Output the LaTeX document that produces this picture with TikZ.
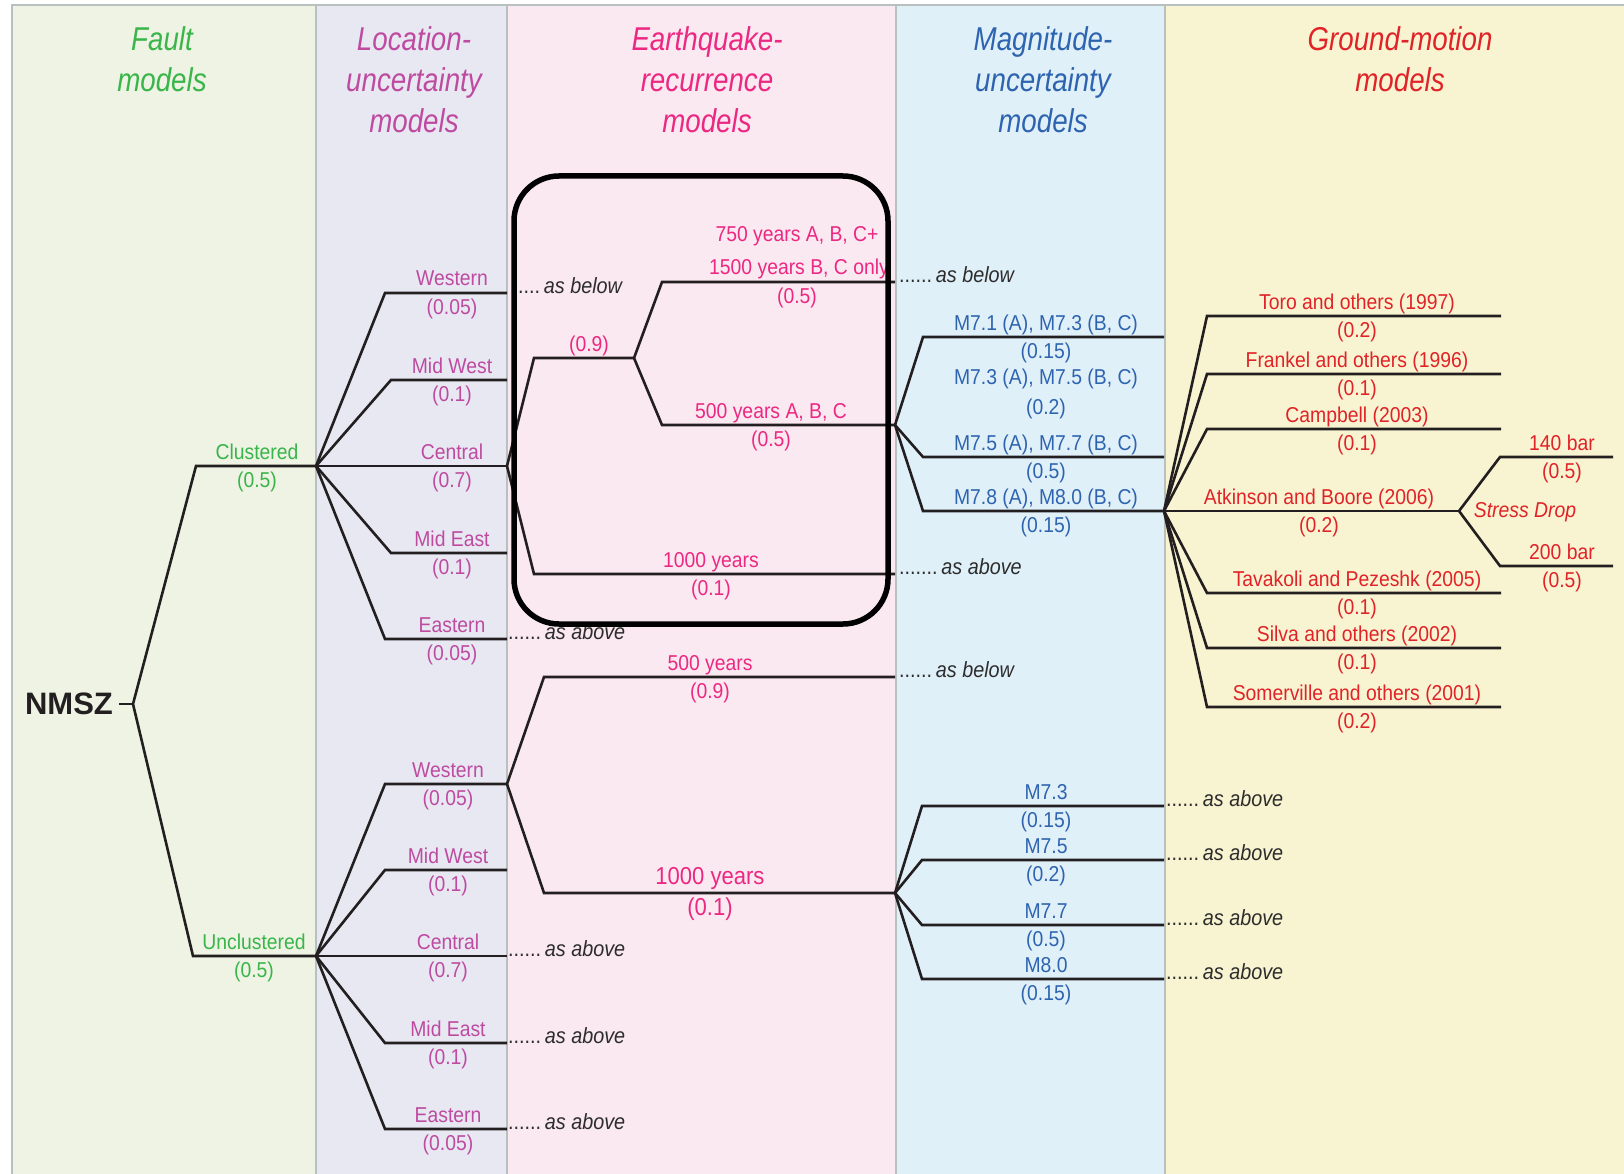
\documentclass[tikz,border=0pt]{standalone}
\usepackage{fontspec}
\setmainfont{Liberation Sans}[FakeStretch=0.9]
\newfontfamily\headfont{Liberation Sans}[FakeStretch=0.84]
\newfontfamily\rootfont{Liberation Sans}
\usetikzlibrary{positioning}
\definecolor{faultc}{RGB}{57,181,74}
\definecolor{locc}{RGB}{190,75,160}
\definecolor{recc}{RGB}{236,40,130}
\definecolor{magc}{RGB}{46,100,175}
\definecolor{gmc}{RGB}{224,35,40}
\definecolor{faultbg}{RGB}{238,243,228}
\definecolor{locbg}{RGB}{232,232,243}
\definecolor{recbg}{RGB}{250,233,240}
\definecolor{magbg}{RGB}{224,240,249}
\definecolor{gmbg}{RGB}{248,244,209}
\definecolor{rulec}{RGB}{185,192,192}
\definecolor{linec}{RGB}{35,31,32}
\definecolor{leadc}{RGB}{45,45,45}
\tikzset{
  branch/.style={draw=linec, line width=2.6pt},
  lab/.style={anchor=base, inner sep=0pt, font=\fontsize{21.5}{24}\selectfont},
  labup/.style={lab, yshift=7pt},
  labdn/.style={lab, yshift=-21pt},
  lead/.style={anchor=base west, inner sep=0pt, text=leadc, font=\fontsize{22}{24}\selectfont},
  head/.style={anchor=north, align=center, inner sep=0pt, font=\headfont\itshape\fontsize{33}{41}\selectfont},
  col/.style={draw=rulec, line width=2pt},
}

\begin{document}
\begin{tikzpicture}[x=1pt, y=-1pt]
	\useasboundingbox (0,0) rectangle (1624,1174);
	\fill[white] (0,0) rectangle (1624,1174);

	% Columns
	\fill[faultbg] (11.5,5) rectangle (316,1174);
	\fill[locbg] (316,5) rectangle (507,1174);
	\fill[recbg] (507,5) rectangle (896,1174);
	\fill[magbg] (896,5) rectangle (1165,1174);
	\fill[gmbg] (1165,5) rectangle (1624,1174);
	\draw[col] (11.5,1174) -- (11.5,5) -- (1624,5);
	\draw[col] (316,5) -- (316,1174);
	\draw[col] (507,5) -- (507,1174);
	\draw[col] (896,5) -- (896,1174);
	\draw[col] (1165,5) -- (1165,1174);

	% Headers
	\node[head, text=faultc] (hFault) at (162,26) {Fault\\models};
	\node[head, text=locc] (hLoc) at (414,26) {Location-\\uncertainty\\models};
	\node[head, text=recc] (hRec) at (707,26) {Earthquake-\\recurrence\\models};
	\node[head, text=magc] (hMag) at (1043,26) {Magnitude-\\uncertainty\\models};
	\node[head, text=gmc] (hGm) at (1400,26) {Ground-motion\\models};

	% Fault models
	\node[font=\rootfont\bfseries\fontsize{31}{34}\selectfont, text=linec, inner sep=0pt] (nmsz) at (69,704) {NMSZ};
	\coordinate (root) at (133,704);
	\coordinate (clu) at (316,466);
	\coordinate (unc) at (316,956);
	\draw[branch] ([xshift=6pt]nmsz.east) -- (root);
	\draw[branch] (clu) -- ([xshift=-120pt]clu) -- (root) -- ([xshift=-123pt]unc) -- (unc);
	\node[labup, text=faultc] (cluL) at (257,466) {Clustered};
	\node[labdn, text=faultc] (cluP) at (257,466) {(0.5)};
	\node[labup, text=faultc] (uncL) at (254,956) {Unclustered};
	\node[labdn, text=faultc] (uncP) at (254,956) {(0.5)};

	% Location, clustered
	\coordinate (cW) at (507,293);
	\coordinate (cMW) at (507,380);
	\coordinate (cC) at (507,466);
	\coordinate (cME) at (507,553);
	\coordinate (cE) at (507,639);
	\draw[branch] (clu) -- ([xshift=-122pt]cW) -- (cW);
	\draw[branch] (clu) -- ([xshift=-116pt]cMW) -- (cMW);
	\draw[branch] (clu) -- (cC);
	\draw[branch] (clu) -- ([xshift=-116pt]cME) -- (cME);
	\draw[branch] (clu) -- ([xshift=-122pt]cE) -- (cE);
	\node[labup, text=locc] (cWL) at (452,293) {Western};
	\node[labdn, text=locc] (cWP) at (452,293) {(0.05)};
	\node[labup, text=locc] (cMWL) at (452,380) {Mid West};
	\node[labdn, text=locc] (cMWP) at (452,380) {(0.1)};
	\node[labup, text=locc] (cCL) at (452,466) {Central};
	\node[labdn, text=locc] (cCP) at (452,466) {(0.7)};
	\node[labup, text=locc] (cMEL) at (452,553) {Mid East};
	\node[labdn, text=locc] (cMEP) at (452,553) {(0.1)};
	\node[labup, text=locc] (cEL) at (452,639) {Eastern};
	\node[labdn, text=locc] (cEP) at (452,639) {(0.05)};
	\node[lead] (cWT) at ([xshift=11pt]cW) {....\,\textit{as below}};
	\node[lead] (cET) at ([xshift=1pt]cE) {......\,\textit{as above}};

	% Recurrence, clustered
	\coordinate (c09) at (634,358);
	\coordinate (c750) at (895,282);
	\coordinate (cmag) at (895,425);
	\coordinate (c10) at (895,574);
	\draw[branch] (cC) -- ([xshift=-100pt]c09) -- (c09);
	\draw[branch] (cC) -- ([xshift=-361pt]c10) -- (c10);
	\draw[branch] (c09) -- ([xshift=-233pt]c750) -- (c750);
	\draw[branch] (c09) -- ([xshift=-233pt]cmag) -- (cmag);
	\node[labup, text=recc] (c09P) at (589,358) {(0.9)};
	\node[lab, text=recc] (c750L) at (797,242) {750 years A, B, C+};
	\node[labup, text=recc] (c1500L) at (799,282) {1500 years B, C only};
	\node[labdn, text=recc] (c750P) at (797,282) {(0.5)};
	\node[labup, text=recc] (c500L) at (771,425) {500 years A, B, C};
	\node[labdn, text=recc] (c500P) at (771,425) {(0.5)};
	\node[labup, text=recc] (c10L) at (711,574) {1000 years};
	\node[labdn, text=recc] (c10P) at (711,574) {(0.1)};
	\node[lead] (c750T) at ([xshift=4pt]c750) {......\,\textit{as below}};
	\node[lead] (c10T) at ([xshift=4pt]c10) {.......\,\textit{as above}};

	% Magnitude, clustered
	\coordinate (m71) at (1164,337);
	\coordinate (m75) at (1164,457);
	\coordinate (m78) at (1164,511);
	\draw[branch] (cmag) -- ([xshift=-241pt]m71) -- (m71);
	\draw[branch] (cmag) -- ([xshift=-241pt]m75) -- (m75);
	\draw[branch] (cmag) -- ([xshift=-241pt]m78) -- (m78);
	\node[labup, text=magc] (m71L) at (1046,337) {M7.1 (A), M7.3 (B, C)};
	\node[labdn, text=magc] (m71P) at (1046,337) {(0.15)};
	\node[lab, text=magc] (m73L) at (1046,384) {M7.3 (A), M7.5 (B, C)};
	\node[lab, text=magc] (m73P) at (1046,414) {(0.2)};
	\node[labup, text=magc] (m75L) at (1046,457) {M7.5 (A), M7.7 (B, C)};
	\node[labdn, text=magc] (m75P) at (1046,457) {(0.5)};
	\node[labup, text=magc] (m78L) at (1046,511) {M7.8 (A), M8.0 (B, C)};
	\node[labdn, text=magc] (m78P) at (1046,511) {(0.15)};

	% Ground motion
	\coordinate (gToro) at (1501,316);
	\coordinate (gFrank) at (1501,374);
	\coordinate (gCamp) at (1501,429);
	\coordinate (stress) at (1459,511);
	\coordinate (gTava) at (1501,593);
	\coordinate (gSilva) at (1501,648);
	\coordinate (gSomer) at (1501,707);
	\draw[branch] (m78) -- ([xshift=-294pt]gToro) -- (gToro);
	\draw[branch] (m78) -- ([xshift=-294pt]gFrank) -- (gFrank);
	\draw[branch] (m78) -- ([xshift=-294pt]gCamp) -- (gCamp);
	\draw[branch] (m78) -- (stress);
	\draw[branch] (m78) -- ([xshift=-294pt]gTava) -- (gTava);
	\draw[branch] (m78) -- ([xshift=-294pt]gSilva) -- (gSilva);
	\draw[branch] (m78) -- ([xshift=-294pt]gSomer) -- (gSomer);
	\node[labup, text=gmc] (gToroL) at (1357,316) {Toro and others (1997)};
	\node[labdn, text=gmc] (gToroP) at (1357,316) {(0.2)};
	\node[labup, text=gmc] (gFrankL) at (1357,374) {Frankel and others (1996)};
	\node[labdn, text=gmc] (gFrankP) at (1357,374) {(0.1)};
	\node[labup, text=gmc] (gCampL) at (1357,429) {Campbell (2003)};
	\node[labdn, text=gmc] (gCampP) at (1357,429) {(0.1)};
	\node[labup, text=gmc] (gAtkL) at (1319,511) {Atkinson and Boore (2006)};
	\node[labdn, text=gmc] (gAtkP) at (1319,511) {(0.2)};
	\node[labup, text=gmc] (gTavaL) at (1357,593) {Tavakoli and Pezeshk (2005)};
	\node[labdn, text=gmc] (gTavaP) at (1357,593) {(0.1)};
	\node[labup, text=gmc] (gSilvaL) at (1357,648) {Silva and others (2002)};
	\node[labdn, text=gmc] (gSilvaP) at (1357,648) {(0.1)};
	\node[labup, text=gmc] (gSomerL) at (1357,707) {Somerville and others (2001)};
	\node[labdn, text=gmc] (gSomerP) at (1357,707) {(0.2)};

	% Stress drop
	\coordinate (b140) at (1613,457);
	\coordinate (b200) at (1613,566);
	\draw[branch] (stress) -- ([xshift=-113pt]b140) -- (b140);
	\draw[branch] (stress) -- ([xshift=-113pt]b200) -- (b200);
	\node[text=gmc, inner sep=0pt, font=\itshape\fontsize{21.5}{24}\selectfont] (sdrop) at (1525,512) {Stress Drop};
	\node[labup, text=gmc] (b140L) at (1562,457) {140 bar};
	\node[labdn, text=gmc] (b140P) at (1562,457) {(0.5)};
	\node[labup, text=gmc] (b200L) at (1562,566) {200 bar};
	\node[labdn, text=gmc] (b200P) at (1562,566) {(0.5)};

	% Location, unclustered
	\coordinate (uW) at (507,784);
	\coordinate (uMW) at (507,870);
	\coordinate (uC) at (507,956);
	\coordinate (uME) at (507,1043);
	\coordinate (uE) at (507,1129);
	\draw[branch] (unc) -- ([xshift=-122pt]uW) -- (uW);
	\draw[branch] (unc) -- ([xshift=-122pt]uMW) -- (uMW);
	\draw[branch] (unc) -- (uC);
	\draw[branch] (unc) -- ([xshift=-122pt]uME) -- (uME);
	\draw[branch] (unc) -- ([xshift=-122pt]uE) -- (uE);
	\node[labup, text=locc] (uWL) at (448,784) {Western};
	\node[labdn, text=locc] (uWP) at (448,784) {(0.05)};
	\node[labup, text=locc] (uMWL) at (448,870) {Mid West};
	\node[labdn, text=locc] (uMWP) at (448,870) {(0.1)};
	\node[labup, text=locc] (uCL) at (448,956) {Central};
	\node[labdn, text=locc] (uCP) at (448,956) {(0.7)};
	\node[labup, text=locc] (uMEL) at (448,1043) {Mid East};
	\node[labdn, text=locc] (uMEP) at (448,1043) {(0.1)};
	\node[labup, text=locc] (uEL) at (448,1129) {Eastern};
	\node[labdn, text=locc] (uEP) at (448,1129) {(0.05)};
	\node[lead] (uCT) at ([xshift=1pt]uC) {......\,\textit{as above}};
	\node[lead] (uMET) at ([xshift=1pt]uME) {......\,\textit{as above}};
	\node[lead] (uET) at ([xshift=1pt]uE) {......\,\textit{as above}};

	% Recurrence, unclustered
	\coordinate (u500) at (895,677);
	\coordinate (umag) at (895,893);
	\draw[branch] (uW) -- ([xshift=-351pt]u500) -- (u500);
	\draw[branch] (uW) -- ([xshift=-351pt]umag) -- (umag);
	\node[labup, text=recc] (u500L) at (710,677) {500 years};
	\node[labdn, text=recc] (u500P) at (710,677) {(0.9)};
	\node[lab, text=recc, font=\fontsize{24.5}{27}\selectfont] (u10L) at (710,884) {1000 years};
	\node[lab, text=recc, font=\fontsize{24.5}{27}\selectfont] (u10P) at (710,915) {(0.1)};
	\node[lead] (u500T) at ([xshift=4pt]u500) {......\,\textit{as below}};

	% Magnitude, unclustered
	\coordinate (u73) at (1164,806);
	\coordinate (u75) at (1164,860);
	\coordinate (u77) at (1164,925);
	\coordinate (u80) at (1164,979);
	\draw[branch] (umag) -- ([xshift=-242pt]u73) -- (u73);
	\draw[branch] (umag) -- ([xshift=-242pt]u75) -- (u75);
	\draw[branch] (umag) -- ([xshift=-242pt]u77) -- (u77);
	\draw[branch] (umag) -- ([xshift=-242pt]u80) -- (u80);
	\node[labup, text=magc] (u73L) at (1046,806) {M7.3};
	\node[labdn, text=magc] (u73P) at (1046,806) {(0.15)};
	\node[labup, text=magc] (u75L) at (1046,860) {M7.5};
	\node[labdn, text=magc] (u75P) at (1046,860) {(0.2)};
	\node[labup, text=magc] (u77L) at (1046,925) {M7.7};
	\node[labdn, text=magc] (u77P) at (1046,925) {(0.5)};
	\node[labup, text=magc] (u80L) at (1046,979) {M8.0};
	\node[labdn, text=magc] (u80P) at (1046,979) {(0.15)};
	\node[lead] (u73T) at ([xshift=2pt]u73) {......\,\textit{as above}};
	\node[lead] (u75T) at ([xshift=2pt]u75) {......\,\textit{as above}};
	\node[lead] (u77T) at ([xshift=2pt]u77) {......\,\textit{as above}};
	\node[lead] (u80T) at ([xshift=2pt]u80) {......\,\textit{as above}};

	% Highlight box
	\draw[line width=5.5pt, rounded corners=45pt] (514,176) rectangle (888,624);
\end{tikzpicture}
\end{document}
